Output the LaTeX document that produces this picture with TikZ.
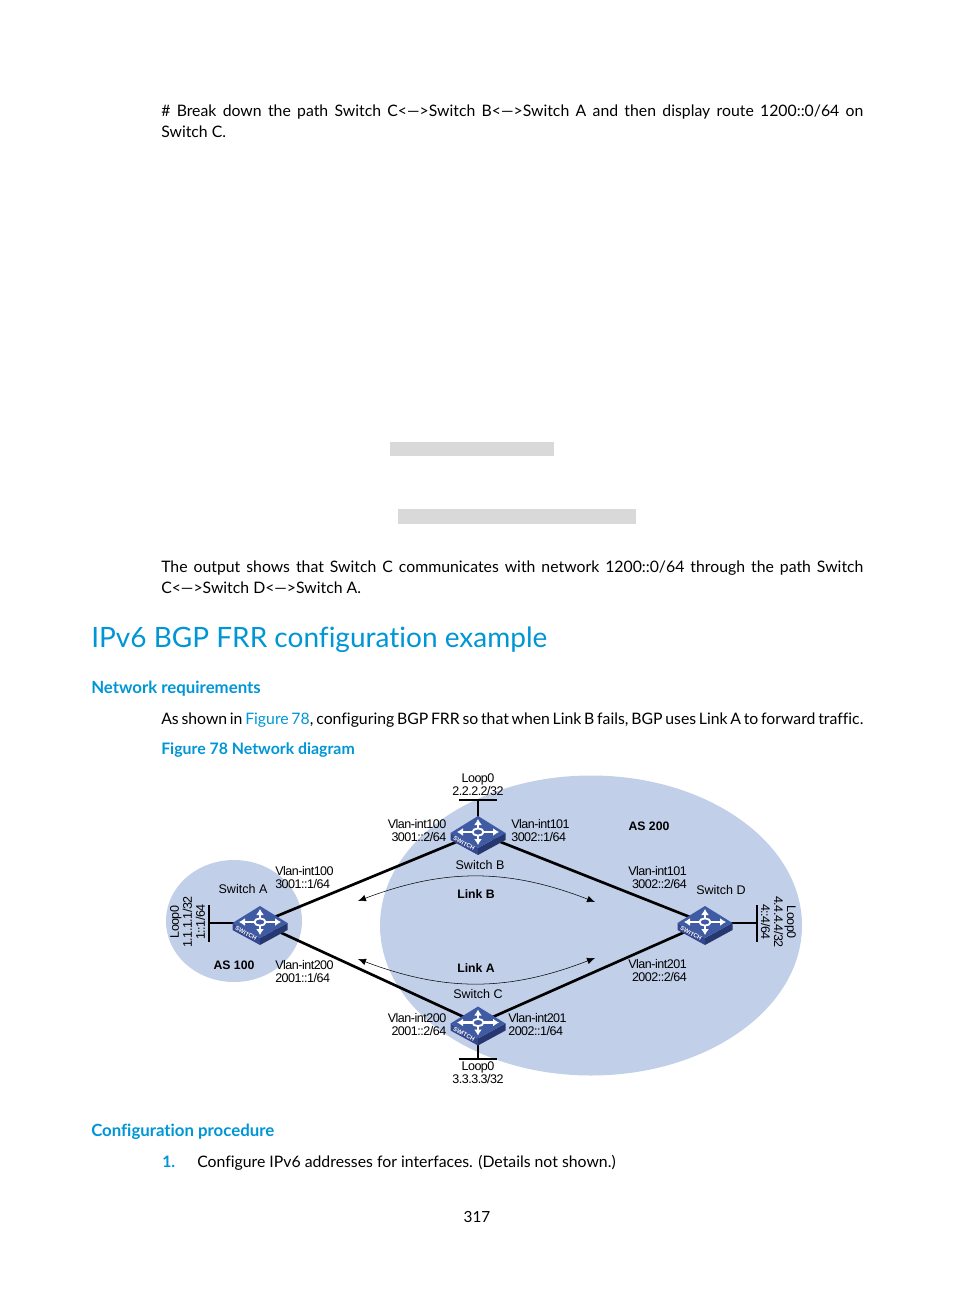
\documentclass[tikz,border=0pt]{standalone}
\usepackage{fontspec}
\setmainfont[Ligatures={TeX,NoCommon}]{Lato}
\newfontfamily\lblfont{Liberation Sans}
\newfontfamily\addrfont[LetterSpace=-4]{Liberation Sans}
\usetikzlibrary{arrows.meta,positioning}
\definecolor{asblue}{HTML}{C1CFE9}
\definecolor{hpblue}{HTML}{0096D6}
\definecolor{swtop}{HTML}{3F5BA3}
\definecolor{swleft}{HTML}{35488F}
\definecolor{swright}{HTML}{27376F}
\tikzset{
  bodytext/.style={anchor=base west,inner sep=0pt,text width=526.5pt,align=justify,font=\fontsize{11.85}{15.75}\selectfont},
  headtext/.style={anchor=base west,inner sep=0pt,text=hpblue},
  iflabel/.style={inner sep=0pt,font=\addrfont\fontsize{9.4}{9.75}\selectfont},
  swlabel/.style={inner sep=0pt,font=\lblfont\fontsize{9.4}{9.75}\selectfont},
  aslabel/.style={inner sep=0pt,font=\lblfont\bfseries\fontsize{9.2}{9.75}\selectfont},
  link/.style={line width=2pt},
  stub/.style={line width=1.5pt},
  linkarc/.style={line width=0.4pt,{Latex[length=6pt,width=5pt]}-{Latex[length=6pt,width=5pt]}},
  pics/switchicon/.style={code={
    \fill[swleft] (-27.5,0)--(0,15)--(0,22)--(-27.5,7)--cycle;
    \fill[swright] (27.5,0)--(0,15)--(0,22)--(27.5,7)--cycle;
    \fill[swtop] (-27.5,0)--(0,-17)--(27.5,0)--(0,15)--cycle;
    \draw[white,line width=1.4pt] (0,-1) ellipse (5.5 and 3.6);
    \foreach \tipx/\tipy/\startx/\starty in {0/-14/0/-5,0/12/0/3,-21/-1/-6/-1,21/-1/6/-1}{
      \draw[white,line width=1.8pt,-{Latex[length=4.5pt,width=6pt]}] (\startx,\starty)--(\tipx,\tipy);
    }
    \node[white,rotate=-28,inner sep=0pt,font=\lblfont\bfseries\fontsize{4.4}{5}\selectfont] at (-14,10.5) {SWITCH};
  }}
}
\begin{document}
\begin{tikzpicture}[x=0.75pt,y=-0.75pt]
  \useasboundingbox (0,0) rectangle (954,1296);
  % page text
  \node[bodytext] (introline) at (161,116) {\# Break down the path Switch C<—>Switch B<—>Switch A and then display route 1200::0/64 on\linebreak Switch C.};
  \fill[black!15] (390,442) rectangle (554,456);
  \fill[black!15] (398,509) rectangle (636,524);
  \node[bodytext] (outputline) at (161,572) {The output shows that Switch C communicates with network 1200::0/64 through the path Switch\linebreak C<—>Switch D<—>Switch A.};
  \node[headtext,font=\fontsize{21}{26}\selectfont] (title) at (91,647) {IPv6 BGP FRR configuration example};
  \node[headtext,font=\bfseries\fontsize{12.6}{16}\selectfont] (netreq) at (91,693) {Network requirements};
  \node[bodytext] (asshown) at (161,724) {As shown in \textcolor{hpblue}{Figure 78}, configuring BGP FRR so that when Link B fails, BGP uses Link A to forward traffic.\linebreak};
  \node[headtext,font=\bfseries\fontsize{11.9}{15}\selectfont] (figcap) at (161,754) {Figure 78 Network diagram};
  \node[headtext,font=\bfseries\fontsize{12.6}{16}\selectfont] (confproc) at (91,1136) {Configuration procedure};
  \node[headtext,font=\bfseries\fontsize{11.85}{16}\selectfont] (stepnum) at (162,1167) {1.};
  \node[anchor=base west,inner sep=0pt,font=\fontsize{11.85}{16}\selectfont] (steptext) at (197,1167) {Configure IPv6 addresses for interfaces. (Details not shown.)};
  \node[inner sep=0pt,font=\fontsize{11.5}{14}\selectfont] (pagenum) at (477,1217) {317};
  % AS areas
  \fill[asblue] (234,921) ellipse (68 and 61);
  \fill[asblue] (591,925.5) ellipse (211 and 150);
  % devices and free ends
  \coordinate (swA) at (260,923);
  \coordinate (swB) at (478,833);
  \coordinate (swC) at (478,1023.5);
  \coordinate (swD) at (705,923);
  \coordinate (loopA) at (209,923);
  \coordinate (loopAt) at (209,905);
  \coordinate (loopAb) at (209,942);
  \coordinate (loopB) at (478,800);
  \coordinate (loopBl) at (459,800);
  \coordinate (loopBr) at (497,800);
  \coordinate (loopC) at (478,1058.5);
  \coordinate (loopCl) at (459,1058.5);
  \coordinate (loopCr) at (497,1058.5);
  \coordinate (loopD) at (757,923);
  \coordinate (loopDt) at (757,905);
  \coordinate (loopDb) at (757,942);
  \coordinate (arcBl) at (358,901);
  \coordinate (arcBr) at (595,902);
  \coordinate (arcAl) at (358,959);
  \coordinate (arcAr) at (595,958);
  % links
  \draw[link] (swA)--(swB);
  \draw[link] (swA)--(swC);
  \draw[link] (swB)--(swD);
  \draw[link] (swC)--(swD);
  \foreach \sw/\lp/\ea/\eb in {swA/loopA/loopAt/loopAb,swB/loopB/loopBl/loopBr,swC/loopC/loopCl/loopCr,swD/loopD/loopDt/loopDb}{
    \draw[stub] (\sw)--(\lp);
    \draw[stub] (\ea)--(\eb);
  }
  \draw[linkarc] (arcBl) to[bend left=21] (arcBr);
  \draw[linkarc] (arcAl) to[bend right=21] (arcAr);
  \foreach \sw in {swA,swB,swC,swD}{ \pic at (\sw) {switchicon}; }
  % labels
  \node[swlabel] (nameA) at (243,889) {Switch A};
  \node[swlabel] (nameB) at (480,865) {Switch B};
  \node[swlabel] (nameC) at (478,994) {Switch C};
  \node[swlabel] (nameD) at (721,890) {Switch D};
  \node[aslabel] (as100) at (234,965) {AS 100};
  \node[aslabel] (as200) at (649,826) {AS 200};
  \node[aslabel] (linkB) at (476,894) {Link B};
  \node[aslabel] (linkA) at (476,968) {Link A};
  \node[iflabel,anchor=west,align=left] (ifAB) at (275,878) {Vlan-int100\\3001::1/64};
  \node[iflabel,anchor=west,align=left] (ifAC) at (275,971.5) {Vlan-int200\\2001::1/64};
  \node[iflabel,anchor=east,align=right] (ifBA) at (446.5,831) {Vlan-int100\\3001::2/64};
  \node[iflabel,anchor=west,align=left] (ifBD) at (511,831) {Vlan-int101\\3002::1/64};
  \node[iflabel,anchor=east,align=right] (ifCA) at (446.5,1025) {Vlan-int200\\2001::2/64};
  \node[iflabel,anchor=west,align=left] (ifCD) at (508,1025) {Vlan-int201\\2002::1/64};
  \node[iflabel,anchor=east,align=right] (ifDB) at (687,878) {Vlan-int101\\3002::2/64};
  \node[iflabel,anchor=east,align=right] (ifDC) at (687,971) {Vlan-int201\\2002::2/64};
  \node[iflabel,align=center] (lblB) at (478,784.5) {Loop0\\2.2.2.2/32};
  \node[iflabel,align=center] (lblC) at (478,1073) {Loop0\\3.3.3.3/32};
  \node[iflabel,align=center,rotate=90] (lblA) at (187.5,922) {Loop0\\1.1.1.1/32\\1::1/64};
  \node[iflabel,align=center,rotate=-90] (lblD) at (778.5,922) {Loop0\\4.4.4.4/32\\4::4/64};
\end{tikzpicture}
\end{document}
